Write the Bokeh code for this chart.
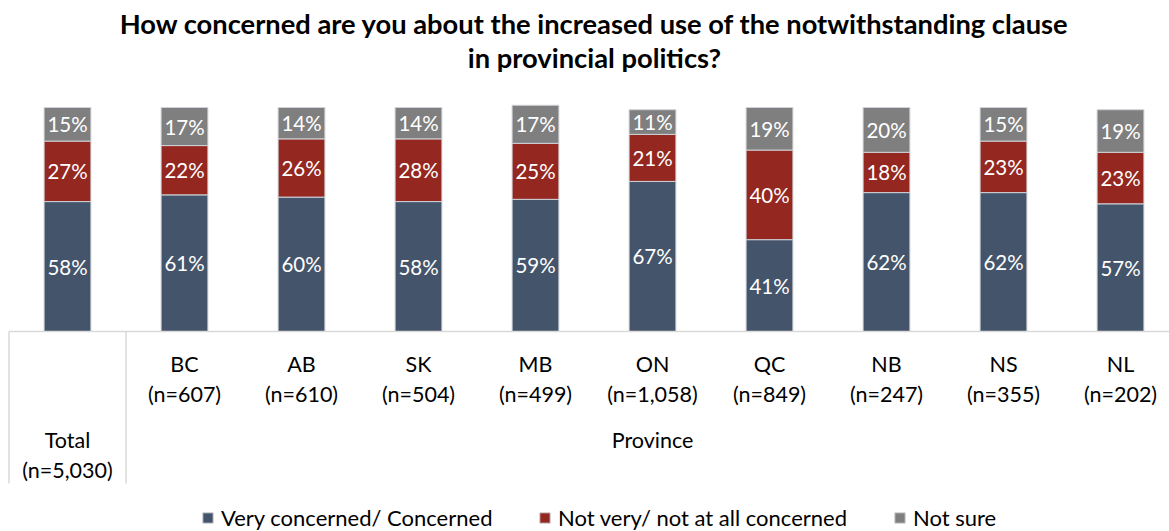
from bokeh.plotting import figure
from bokeh.models import Range1d, Label, Legend, LegendItem, ColumnDataSource
from bokeh.core.properties import value
from bokeh.embed import file_html
from bokeh.resources import INLINE

# ---- data ----
categories = ["Total", "BC", "AB", "SK", "MB", "ON", "QC", "NB", "NS", "NL"]
sample_sizes = ["(n=5,030)", "(n=607)", "(n=610)", "(n=504)", "(n=499)",
                "(n=1,058)", "(n=849)", "(n=247)", "(n=355)", "(n=202)"]
group_label = "Province"
concerned = [58, 61, 60, 58, 59, 67, 41, 62, 62, 57]
not_concerned = [27, 22, 26, 28, 25, 21, 40, 18, 23, 23]
not_sure = [15, 17, 14, 14, 17, 11, 19, 20, 15, 19]
series_names = ["Very concerned/ Concerned", "Not very/ not at all concerned", "Not sure"]
colors = ["#44546A", "#94271F", "#7F7F7F"]
title_lines = ["How concerned are you about the increased use of the notwithstanding clause",
               "in provincial politics?"]

FONT = "Lato"
W, H = 1169, 531
STEP = 117.0        # px per category
X0 = 67.0           # px of first category centre
BASE = 331.0        # px from top of the zero line
PPU = 2.24          # px per percentage point

p = figure(width=W, height=H,
           x_range=Range1d(-X0 / STEP, (W - X0) / STEP),
           y_range=Range1d(-(H - BASE) / PPU, BASE / PPU),
           output_backend="svg", toolbar_location=None, min_border=0,
           x_axis_location=None, y_axis_location=None)
p.grid.visible = False
p.outline_line_color = None
p.background_fill_color = "white"
p.border_fill_color = "white"

xs = list(range(len(categories)))
src = ColumnDataSource(dict(x=xs, concerned=concerned, not_concerned=not_concerned, not_sure=not_sure))
rs = p.vbar_stack(["concerned", "not_concerned", "not_sure"], x="x", width=0.4,
                  color=colors, source=src, line_color="#cfd2d8", line_width=1)

# data labels
lx, ly, lt = [], [], []
for i in xs:
    c, n, s = concerned[i], not_concerned[i], not_sure[i]
    for bottom, v in ((0, c), (c, n), (c + n, s)):
        lx.append(i)
        ly.append(bottom + v / 2)
        lt.append(f"{v}%")
p.text(x=lx, y=ly, text=lt, text_color="white", text_font=value(FONT),
       text_font_size="20.5px", text_align="center", text_baseline="middle")

# category axis frame
AX = "#d9d9d9"
bottom_y = -(483 - BASE) / PPU
p.segment(x0=[-0.5, -0.5, 0.5], y0=[0, 0, 0],
          x1=[len(categories), -0.5, 0.5], y1=[0, bottom_y, bottom_y],
          line_color=AX, line_width=1.5)

row1 = -(363 - BASE) / PPU
row2 = -(393 - BASE) / PPU
row3 = -(439.5 - BASE) / PPU
row4 = -(469 - BASE) / PPU
txt = dict(text_color="black", text_font=value(FONT), text_font_size="21.5px",
           text_align="center", text_baseline="middle")
p.text(x=xs[1:], y=[row1] * 9, text=categories[1:], **txt)
p.text(x=xs[1:], y=[row2] * 9, text=sample_sizes[1:], **txt)
p.text(x=[0], y=[row3], text=[categories[0]], **txt)
p.text(x=[0], y=[row4], text=[sample_sizes[0]], **txt)
p.text(x=[sum(xs[1:]) / len(xs[1:])], y=[row3], text=[group_label], **txt)

# title
for line, mid in zip(title_lines, (22.5, 57)):
    p.add_layout(Label(x=594, y=H - mid, x_units="screen", y_units="screen", text=line,
                       text_font=FONT, text_font_style="bold", text_font_size="27.3px",
                       text_color="black", text_align="center", text_baseline="middle"))

# legend (one per item for exact placement)
for r, name, lxpos in zip(rs, series_names, (201, 538, 893)):
    lg = Legend(items=[LegendItem(label=name, renderers=[r])], location=(lxpos, 0),
                orientation="horizontal", glyph_width=13, glyph_height=13,
                label_standoff=7, label_height=20, padding=0, margin=0,
                border_line_color=None, background_fill_alpha=0,
                label_text_font=FONT, label_text_font_size="22px",
                label_text_color="black")
    p.add_layout(lg)

open("out.html", "w").write(file_html(p, INLINE))
